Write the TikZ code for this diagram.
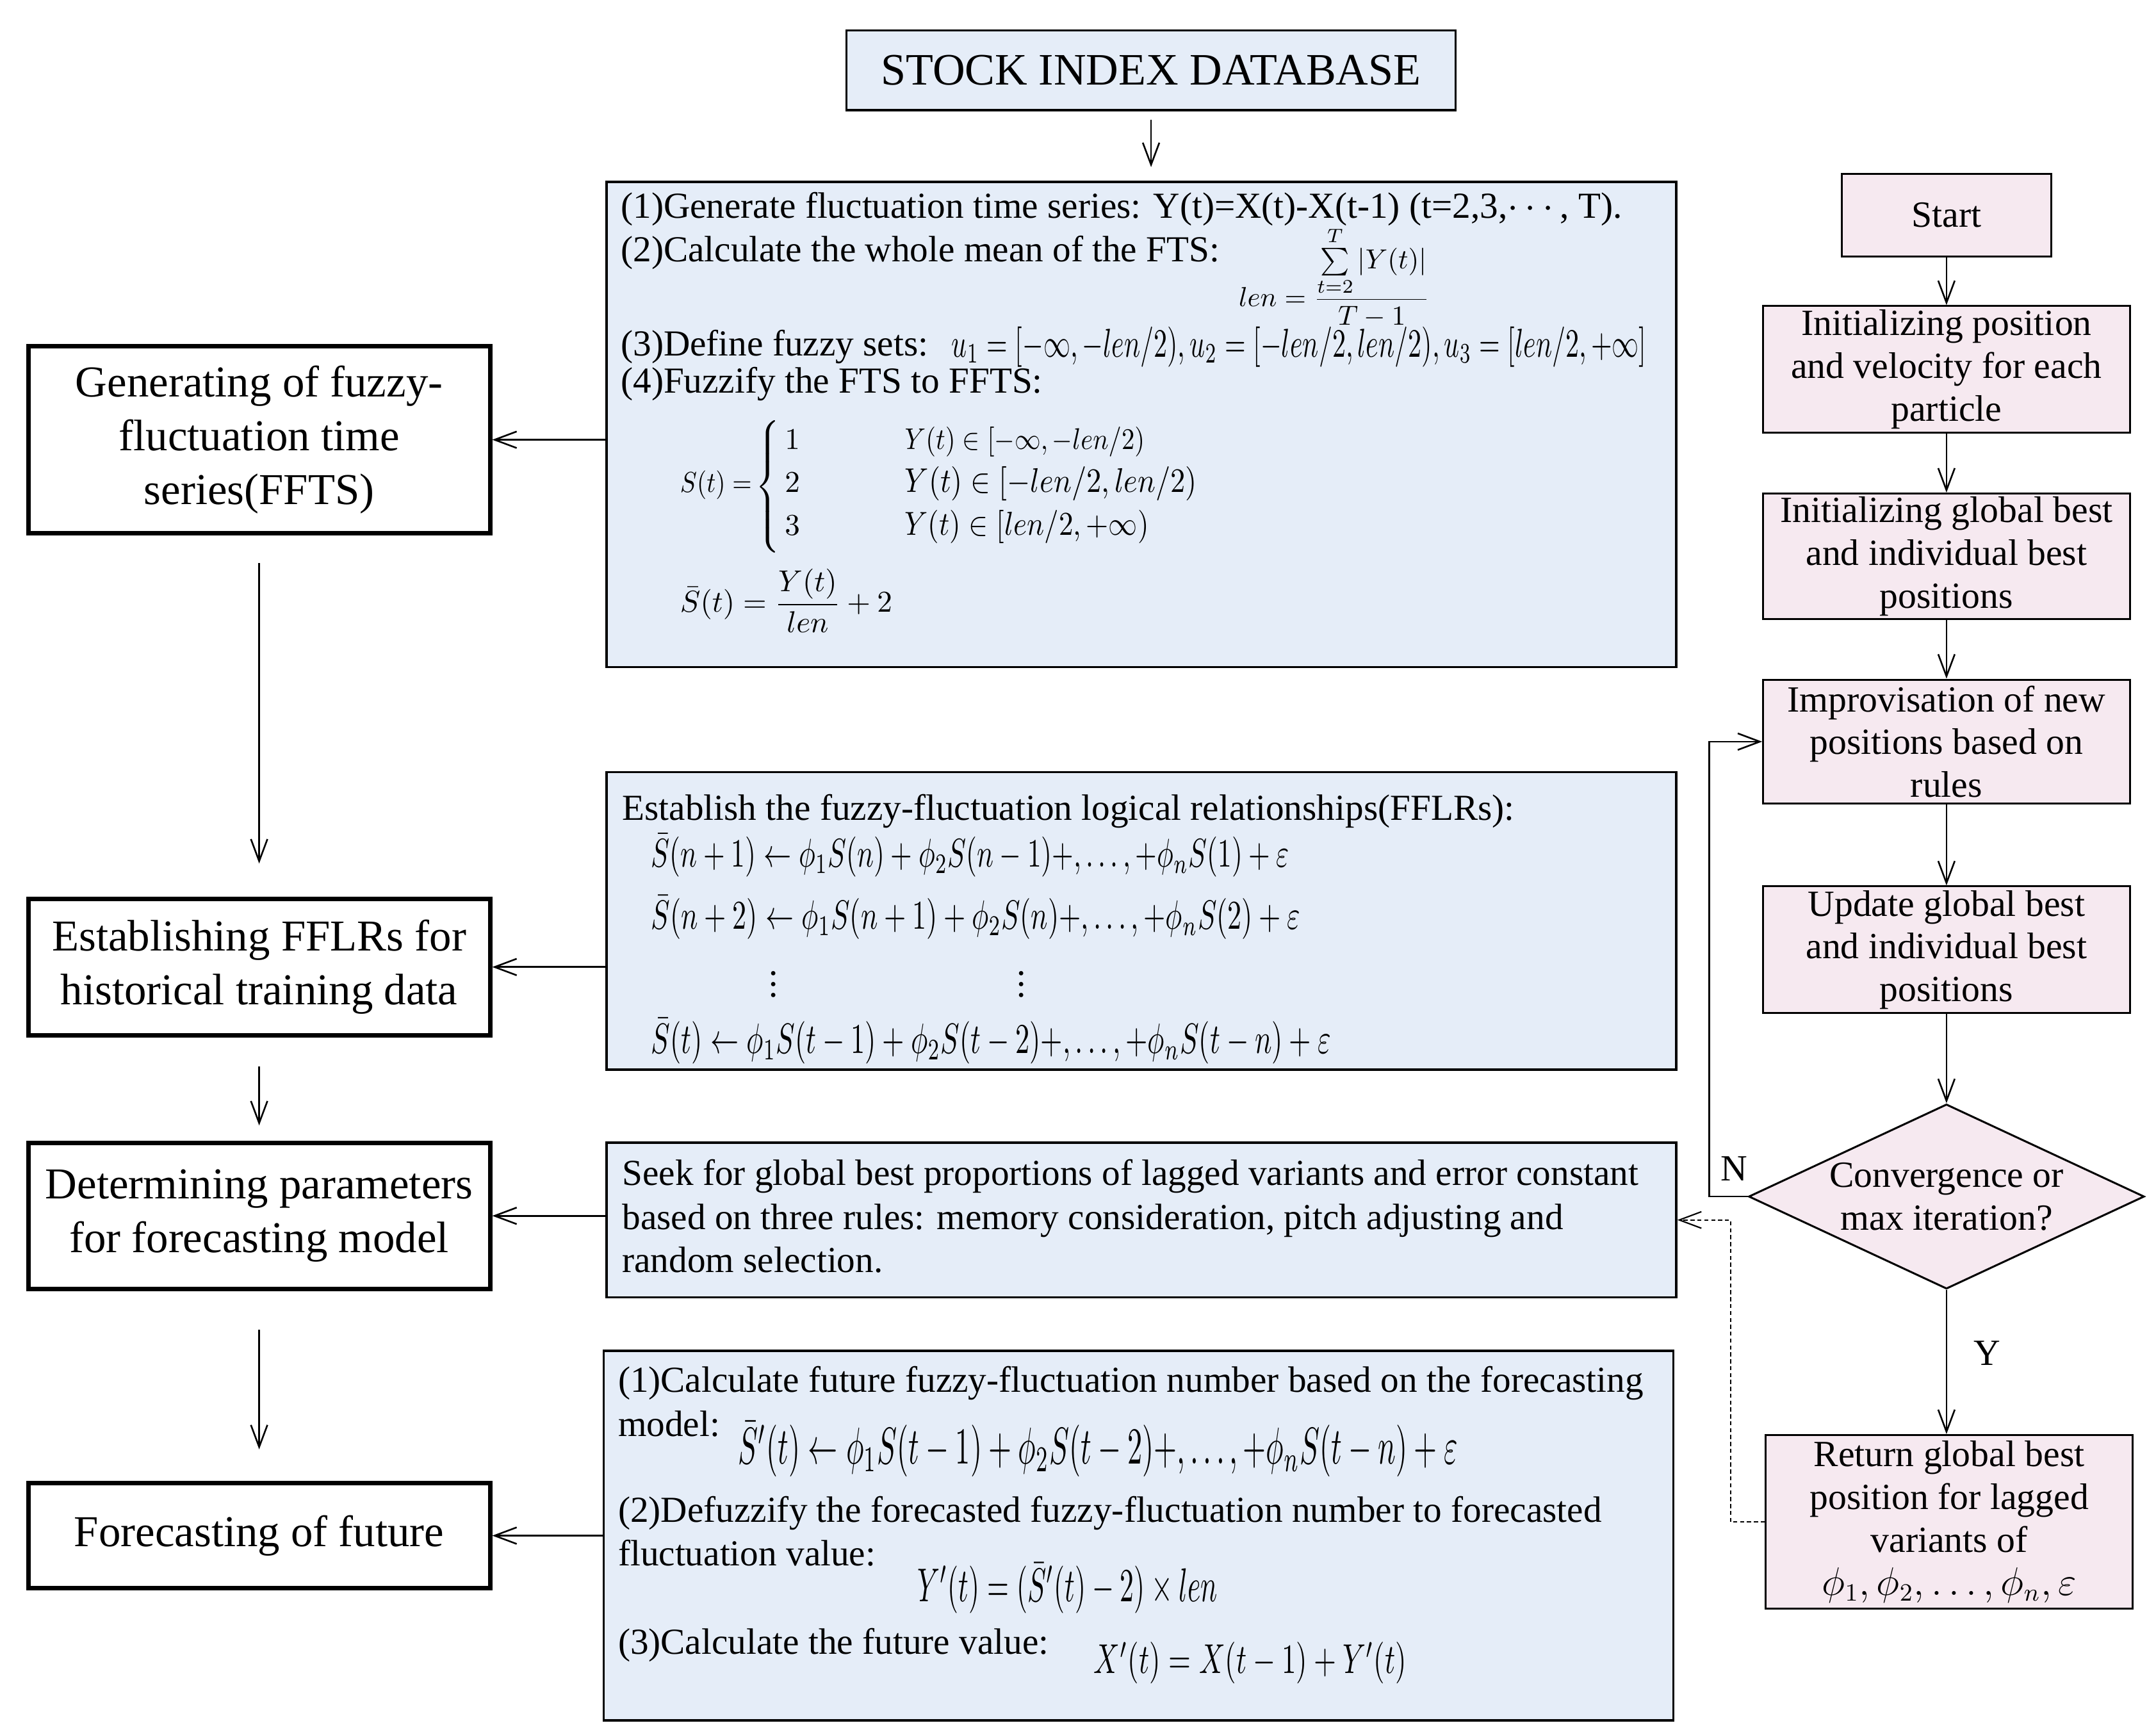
\documentclass[tikz,border=0pt]{standalone}
\usepackage{amsmath}
\usepackage{graphicx}
\usepackage{fontspec}
\setmainfont{Liberation Serif}
\usetikzlibrary{arrows.meta,shapes.geometric}
\definecolor{bluefill}{RGB}{229,237,248}
\definecolor{pinkfill}{RGB}{246,233,240}
\newcommand{\myL}{\fontsize{16}{19.5}\selectfont}
\newcommand{\myR}{\fontsize{13.4}{15.5}\selectfont}
\newcommand{\myB}{\fontsize{13.3}{16}\selectfont}
\newcommand{\myT}{\fontsize{16.3}{19}\selectfont}
\newcommand{\myF}{\fontsize{10.5}{12}\selectfont}
\newcommand{\fitf}[3]{\scalebox{1}[#2]{\resizebox{#1}{!}{#3}}}
\begin{document}
\begin{tikzpicture}[x=0.5pt,y=-0.5pt,
  arr/.style={-{Straight Barb[length=8pt,width=6pt]}, line width=0.6pt},
  bluebox/.style={draw, fill=bluefill, line width=0.8pt, inner sep=0},
  leftbox/.style={draw, fill=white, line width=1.6pt, align=center, inner sep=0, minimum width=167.5pt, font=\myL},
  pinkbox/.style={draw, fill=pinkfill, line width=0.7pt, align=center, inner sep=0, minimum width=133pt, font=\myR},
  btxt/.style={anchor=base west, inner sep=0, font=\myB},
  fml/.style={anchor=base west, inner sep=0},
]
\useasboundingbox (0,0) rectangle (1564,1255);

% top database
\node[bluebox, minimum width=221pt, minimum height=29pt, font=\myT] (db) at (835,51) {STOCK INDEX DATABASE};

% blue boxes
\node[bluebox, minimum width=388pt, minimum height=176pt] (b1) at (828,308) {};
\node[bluebox, minimum width=388pt, minimum height=108pt] (b2) at (828,668) {};
\node[bluebox, minimum width=388pt, minimum height=56pt] (b3) at (828,885) {};
\node[bluebox, minimum width=388pt, minimum height=134pt] (b4) at (826,1114) {};

% left boxes
\node[leftbox, minimum height=68pt] (L1) at (188,319) {Generating of fuzzy-\\fluctuation time\\series(FFTS)};
\node[leftbox, minimum height=49.5pt] (L2) at (188,701.5) {Establishing FFLRs for\\historical training data};
\node[leftbox, minimum height=53pt] (L3) at (188,882) {Determining parameters\\for forecasting model};
\node[leftbox, minimum height=38pt] (L4) at (188,1114) {Forecasting of future};

% box 1 content
\node[btxt] (t11) at (450,158) {(1)Generate fluctuation time series: Y(t)=X(t)-X(t-1) (t=2,3,$\cdots$, T).};
\node[btxt] (t12) at (450,190) {(2)Calculate the whole mean of the FTS:};
\node[inner sep=0, font=\fontsize{10}{11}\selectfont] (f11) at (968,201) {$\displaystyle len=\frac{\sum\limits_{t=2}^{T}\left|Y(t)\right|}{T-1}$};
\node[btxt] (t13) at (450,258) {(3)Define fuzzy sets:};
\node[fml] (f12) at (690,259) {\fitf{252pt}{1.5}{$u_1=[-\infty,-len/2),u_2=[-len/2,len/2),u_3=[len/2,+\infty]$}};
\node[btxt] (t14) at (450,285) {(4)Fuzzify the FTS to FFTS:};
\node[fml, font=\myF] (f13) at (493,357) {\fitf{26pt}{1.15}{$S(t)=$}};
\node[inner sep=0] (br) at (558,353) {$\left\{\vrule height 21pt depth 21pt width 0pt\right.$};
\node[fml, font=\myF] (f14) at (569,326) {$1$};
\node[fml, font=\myF] (f15) at (569,357) {$2$};
\node[fml, font=\myF] (f16) at (569,388) {$3$};
\node[fml, font=\myF] (f17) at (656,326) {\fitf{87pt}{1.15}{$Y(t)\in[-\infty,-len/2)$}};
\node[fml, font=\myF] (f18) at (656,357) {\fitf{106pt}{1.15}{$Y(t)\in[-len/2,len/2)$}};
\node[fml, font=\myF] (f19) at (656,388) {\fitf{88.5pt}{1.15}{$Y(t)\in[len/2,+\infty)$}};
\node[fml, font=\myF] (f1a) at (493,444) {$\bar{S}(t)=\dfrac{Y(t)}{len}+2$};

% box 2 content
\node[btxt] (t21) at (451,595) {Establish the fuzzy-fluctuation logical relationships(FFLRs):};
\node[fml] (f21) at (472,629) {\fitf{231.5pt}{1.45}{$\bar{S}(n+1)\leftarrow\phi_1S(n)+\phi_2S(n-1)+,\ldots,+\phi_nS(1)+\varepsilon$}};
\node[fml] (f22) at (472,674) {\fitf{235.5pt}{1.45}{$\bar{S}(n+2)\leftarrow\phi_1S(n+1)+\phi_2S(n)+,\ldots,+\phi_nS(2)+\varepsilon$}};
\node[inner sep=0, font=\myB] (d1) at (561,708) {$\vdots$};
\node[inner sep=0, font=\myB] (d2) at (741,708) {$\vdots$};
\node[fml] (f23) at (472,764) {\fitf{246.5pt}{1.5}{$\bar{S}(t)\leftarrow\phi_1S(t-1)+\phi_2S(t-2)+,\ldots,+\phi_nS(t-n)+\varepsilon$}};

% box 3 content
\node[btxt] (t31) at (451,860) {Seek for global best proportions of lagged variants and error constant};
\node[btxt] (t32) at (451,892) {based on three rules: memory consideration, pitch adjusting and};
\node[btxt] (t33) at (451,923) {random selection.};

% box 4 content
\node[btxt] (t41) at (448,1010) {(1)Calculate future fuzzy-fluctuation number based on the forecasting};
\node[btxt] (t42) at (448,1042) {model:};
\node[fml] (f41) at (535,1062) {\fitf{261pt}{1.75}{$\bar{S}'(t)\leftarrow\phi_1S(t-1)+\phi_2S(t-2)+,\ldots,+\phi_nS(t-n)+\varepsilon$}};
\node[btxt] (t43) at (448,1104) {(2)Defuzzify the forecasted fuzzy-fluctuation number to forecasted};
\node[btxt] (t44) at (448,1136) {fluctuation value:};
\node[fml] (f42) at (665,1162) {\fitf{109pt}{1.7}{$Y'(t)=(\bar{S}'(t)-2)\times len$}};
\node[btxt] (t45) at (448,1200) {(3)Calculate the future value:};
\node[fml] (f43) at (793,1214) {\fitf{113.5pt}{1.45}{$X'(t)=X(t-1)+Y'(t)$}};

% right flowchart
\node[pinkbox, minimum width=76pt, minimum height=30pt] (st) at (1412,156) {Start};
\node[pinkbox, minimum height=46pt] (P1) at (1412,268) {Initializing position\\and velocity for each\\particle};
\node[pinkbox, minimum height=45.5pt] (P2) at (1412,403.5) {Initializing global best\\and individual best\\positions};
\node[pinkbox, minimum height=45pt] (P3) at (1412,538) {Improvisation of new\\positions based on\\rules};
\node[pinkbox, minimum height=46pt] (P4) at (1412,689) {Update global best\\and individual best\\positions};
\node[diamond, draw, fill=pinkfill, line width=0.7pt, inner sep=0, minimum width=143.5pt, minimum height=67pt] (dm) at (1412,868) {};
\node[align=center, font=\myR, inner sep=0] (dmt) at (dm) {Convergence or\\max iteration?};
\node[pinkbox, minimum height=63pt] (ret) at (1414,1104) {Return global best\\position for lagged\\variants of\\$\phi_1,\phi_2,\ldots,\phi_n,\varepsilon$};
\node[font=\myR, inner sep=0] (nl) at (1258,848) {N};

% connectors
\draw[arr, shorten <=3pt, shorten >=5pt] (db.south) -- (db.south |- b1.north);
\draw[arr] (b1.west |- L1.east) -- (L1.east);
\draw[arr] (b2.west |- L2.east) -- (L2.east);
\draw[arr] (b3.west |- L3.east) -- (L3.east);
\draw[arr] (b4.west |- L4.east) -- (L4.east);
\draw[arr, shorten <=10pt, shorten >=12pt] (L1.south) -- (L2.north);
\draw[arr, shorten <=10.5pt, shorten >=5.5pt] (L2.south) -- (L3.north);
\draw[arr, shorten <=14pt, shorten >=11.5pt] (L3.south) -- (L4.north);
\draw[arr] (st.south) -- (P1.north);
\draw[arr] (P1.south) -- (P2.north);
\draw[arr] (P2.south) -- (P3.north);
\draw[arr] (P3.south) -- (P4.north);
\draw[arr] (P4.south) -- (dm.north);
\draw[arr] (dm.south) -- node[pos=0.44, anchor=west, xshift=9.5pt, inner sep=0, font=\myR] (yl) {Y} (dm.south |- ret.north);
\draw[arr] (dm.west) -- ++(-28,0) |- (P3.west);
\draw[arr, dash pattern=on 1.5pt off 1pt, line width=0.5pt] (ret.west) -- ++(-25,0) |- (b3.east);
\end{tikzpicture}
\end{document}
